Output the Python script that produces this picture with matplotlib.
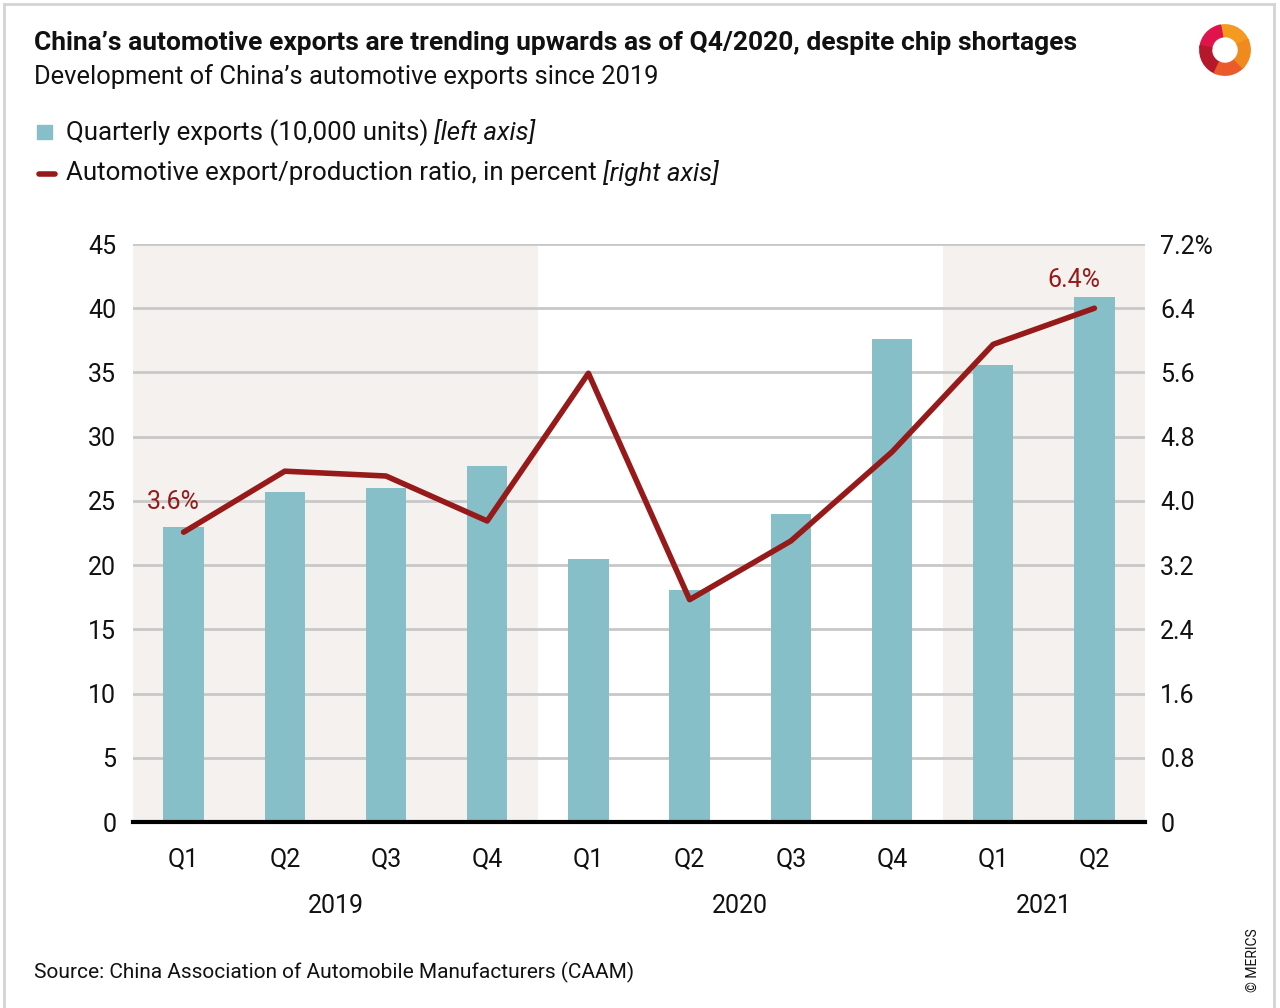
import matplotlib
matplotlib.use("Agg")
import matplotlib.pyplot as plt
from matplotlib.patches import Rectangle, Wedge
from matplotlib.lines import Line2D

plt.rcParams['font.family'] = ['Roboto', 'DejaVu Sans']

quarters = ["Q1", "Q2", "Q3", "Q4", "Q1", "Q2", "Q3", "Q4", "Q1", "Q2"]
years = ["2019", "2020", "2021"]
exports = [23.0, 25.7, 26.0, 27.7, 20.5, 18.1, 24.0, 37.6, 35.6, 40.9]
ratio = [3.61, 4.37, 4.31, 3.75, 5.59, 2.77, 3.50, 4.61, 5.95, 6.40]
left_ticks = [0, 5, 10, 15, 20, 25, 30, 35, 40, 45]
right_ticks = [0, 0.8, 1.6, 2.4, 3.2, 4.0, 4.8, 5.6, 6.4, 7.2]
right_labels = ["0", "0.8", "1.6", "2.4", "3.2", "4.0", "4.8", "5.6", "6.4", "7.2%"]

BAR = "#86bfc7"
LINE = "#961a1a"
SHADE = "#f5f1ee"
GRID = "#c8c8c8"
TXT = "#111111"

W, H = 1280, 1008
fig = plt.figure(figsize=(W / 100, H / 100), dpi=100)

# frame
fig.add_artist(Line2D([4 / W, 4 / W], [0, 1 - 4 / H], color="#d4d4d4", lw=2))
fig.add_artist(Line2D([1274 / W, 1274 / W], [0, 1 - 4 / H], color="#d4d4d4", lw=2))
fig.add_artist(Line2D([4 / W, 1274 / W], [1 - 4 / H, 1 - 4 / H], color="#d4d4d4", lw=2))

ax = fig.add_axes([133 / W, 1 - 822 / H, (1145 - 133) / W, (822 - 244) / H])
ax2 = ax.twinx()

x = list(range(len(quarters)))
ax.set_xlim(-0.5, 9.5)
ax.set_ylim(0, 45)
ax2.set_ylim(0, 7.2)

# shaded periods
ax.axvspan(-0.5, 3.5, color=SHADE, zorder=0, lw=0)
ax.axvspan(7.5, 9.5, color=SHADE, zorder=0, lw=0)

for t in left_ticks[1:]:
    ax.axhline(t, color=GRID, lw=2, zorder=1)

ax.bar(x, exports, width=0.4, color=BAR, zorder=2)
ax.axhline(0, color="black", lw=3, zorder=5, clip_on=False)

ax2.plot(x, ratio, color=LINE, lw=4, zorder=3, solid_capstyle="round")
ax2.text(x[0] - 0.1, ratio[0] + 0.37, "3.6%", color=LINE, fontsize=18, ha="center", va="center")
ax2.text(x[-1] - 0.2, ratio[-1] + 0.35, "6.4%", color=LINE, fontsize=18, ha="center", va="center")

ax.set_yticks(left_ticks)
ax.set_yticklabels([str(t) for t in left_ticks])
ax2.set_yticks(right_ticks)
ax2.set_yticklabels(right_labels)
ax.set_xticks(x)
ax.set_xticklabels(quarters)

for a in (ax, ax2):
    for s in a.spines.values():
        s.set_visible(False)
    a.tick_params(length=0, labelsize=18, colors=TXT)
ax.tick_params(axis="y", pad=12)
ax2.tick_params(axis="y", pad=11)
ax.tick_params(axis="x", pad=18)
ax.set_zorder(ax2.get_zorder() - 1)
ax.patch.set_visible(True)
ax2.patch.set_visible(False)

for lbl, cx in zip(years, [1.5, 5.5, 8.5]):
    ax.text(cx, -6.55, lbl, fontsize=18, ha="center", va="center", color=TXT)

# titles
fig.text(34 / W, 1 - 43 / H, "China\u2019s automotive exports are trending upwards as of Q4/2020, despite chip shortages",
         fontsize=19, fontweight="bold", va="center", ha="left", color=TXT)
fig.text(34 / W, 1 - 77 / H, "Development of China\u2019s automotive exports since 2019",
         fontsize=18.4, va="center", ha="left", color=TXT)

# legend
renderer = fig.canvas.get_renderer()


def legend_line(y, main, extra):
    t = fig.text(66 / W, 1 - y / H, main, fontsize=18.6, va="center", ha="left", color=TXT)
    bb = t.get_window_extent(renderer=renderer)
    fig.text(bb.x1 / W + 6 / W, 1 - y / H, extra, fontsize=18.6, style="italic", va="center", ha="left", color=TXT)


fig.add_artist(Rectangle((37 / W, 1 - 139 / H), 15 / W, 14 / H, color=BAR, transform=fig.transFigure))
legend_line(133, "Quarterly exports (10,000 units)", "[left axis]")
fig.add_artist(Line2D([39 / W, 55 / W], [1 - 174 / H, 1 - 174 / H], color=LINE, lw=4, solid_capstyle="round"))
legend_line(173, "Automotive export/production ratio, in percent", "[right axis]")

# source
fig.text(34 / W, 1 - 972 / H, "Source: China Association of Automobile Manufacturers (CAAM)",
         fontsize=15, va="center", ha="left", color=TXT)
fig.text(1253 / W, 1 - 960 / H, "\u00a9 MERICS", fontsize=10, rotation=90, va="center", ha="center", color=TXT)

# logo (approximation)
lax = fig.add_axes([1197 / W, 1 - 78 / H, 56 / W, 56 / H])
lax.set_xlim(-1, 1)
lax.set_ylim(-1, 1)
lax.set_aspect("equal")
lax.axis("off")
c = (0.0, 0.0)
lax.add_patch(Wedge(c, 0.9, 20, 110, width=0.42, color="#f39a1f"))
lax.add_patch(Wedge(c, 0.9, 100, 175, width=0.42, color="#e0144c"))
lax.add_patch(Wedge(c, 0.9, 170, 250, width=0.42, color="#b5182b"))
lax.add_patch(Wedge(c, 0.9, 245, 320, width=0.42, color="#ea5a2a"))
lax.add_patch(Wedge(c, 0.9, 315, 385, width=0.42, color="#f08a1d"))

fig.savefig("out.png", dpi=100)
